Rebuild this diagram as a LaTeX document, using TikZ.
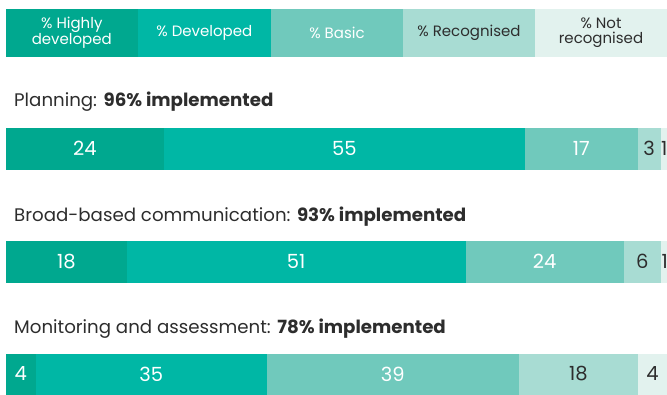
\documentclass[tikz,border=0pt]{standalone}
\usepackage{fontspec}
\setmainfont{Poppins}
\definecolor{cHigh}{RGB}{0,168,143}
\definecolor{cDev}{RGB}{0,183,165}
\definecolor{cBasic}{RGB}{112,201,188}
\definecolor{cRec}{RGB}{168,220,211}
\definecolor{cNot}{RGB}{226,242,238}
\definecolor{txtdark}{RGB}{45,45,45}
\begin{document}
\begin{tikzpicture}[x=1pt,y=-1pt,
  legw/.style={font=\fontsize{15}{15.5}\selectfont, text=white, align=center, inner sep=0pt},
  legd/.style={font=\fontsize{15}{15.5}\selectfont, text=txtdark, align=center, inner sep=0pt},
  numw/.style={font=\fontsize{19.5}{20}\selectfont, text=white, inner sep=0pt},
  numd/.style={font=\fontsize{19.5}{20}\selectfont, text=txtdark, inner sep=0pt},
  ttl/.style={font=\fontsize{18.2}{20}\selectfont, text=txtdark, anchor=base west, inner sep=0pt}]
\useasboundingbox (0,0) rectangle (667,394);
\clip (0,0) rectangle (667,394);
% legend
\fill[cHigh] (6,9) rectangle (137.7,56.7);
\fill[cDev] (137.7,9) rectangle (271,56.7);
\fill[cBasic] (271,9) rectangle (403,56.7);
\fill[cRec] (403,9) rectangle (535,56.7);
\fill[cNot] (535,9) rectangle (667,56.7);
\node[legw] (l1) at (71.8,32.8) {\% Highly\\developed};
\node[legw] (l2) at (204.3,32.8) {\% Developed};
\node[legw] (l3) at (337,32.8) {\% Basic};
\node[legd] (l4) at (469,32.8) {\% Recognised};
\node[legd] (l5) at (601,32.8) {\% Not\\recognised};
% titles
\node[ttl] (t1) at (14,106.7) {Planning: \textbf{96\% implemented}};
\node[ttl] (t2) at (14,221) {Broad-based communication: \textbf{93\% implemented}};
\node[ttl] (t3) at (14,333.3) {Monitoring and assessment: \textbf{78\% implemented}};
% bar 1
\fill[cHigh] (6,127.7) rectangle (163.7,169.5);
\fill[cDev] (163.7,127.7) rectangle (525,169.5);
\fill[cBasic] (525,127.7) rectangle (637.7,169.5);
\fill[cRec] (637.7,127.7) rectangle (660.7,169.5);
\fill[cNot] (660.7,127.7) rectangle (667.5,169.5);
\node[numw] (a1) at (84.9,148.6) {24};
\node[numw] (a2) at (344.4,148.6) {55};
\node[numw] (a3) at (581.4,148.6) {17};
\node[numd] (a4) at (649,148.6) {3};
\node[numd] (a5) at (664.2,148.6) {1};
% bar 2
\fill[cHigh] (6,240.7) rectangle (126.7,282.7);
\fill[cDev] (126.7,240.7) rectangle (465.7,282.7);
\fill[cBasic] (465.7,240.7) rectangle (623.7,282.7);
\fill[cRec] (623.7,240.7) rectangle (660.7,282.7);
\fill[cNot] (660.7,240.7) rectangle (667.5,282.7);
\node[numw] (b1) at (66.4,261.7) {18};
\node[numw] (b2) at (296.2,261.7) {51};
\node[numw] (b3) at (544.7,261.7) {24};
\node[numd] (b4) at (642.2,261.7) {6};
\node[numd] (b5) at (664.7,261.7) {1};
% bar 3
\fill[cHigh] (6,354) rectangle (35.7,396);
\fill[cDev] (35.7,354) rectangle (267,396);
\fill[cBasic] (267,354) rectangle (518.7,396);
\fill[cRec] (518.7,354) rectangle (638,396);
\fill[cNot] (638,354) rectangle (667.5,396);
\node[numw] (c1) at (20.8,374) {4};
\node[numw] (c2) at (151.3,374) {35};
\node[numw] (c3) at (392.8,374) {39};
\node[numd] (c4) at (578.3,374) {18};
\node[numd] (c5) at (652.5,374) {4};
\end{tikzpicture}
\end{document}
